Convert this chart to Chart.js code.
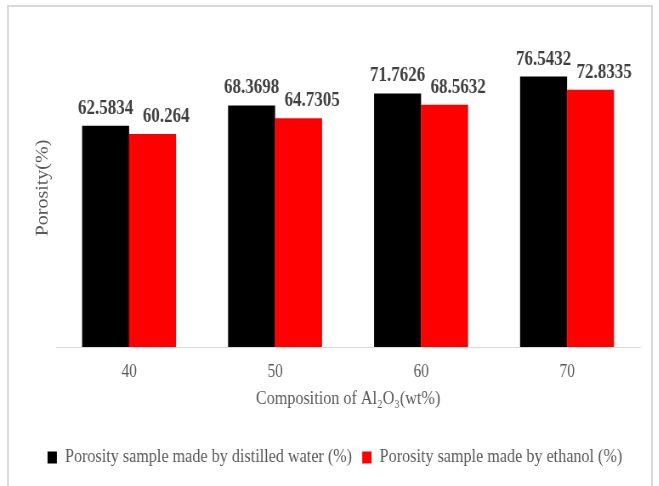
<!DOCTYPE html>
<html>
<head>
<meta charset="utf-8">
<script src="https://cdn.jsdelivr.net/npm/chart.js@4.4.1/dist/chart.umd.min.js"></script>
<style>
  html, body { margin: 0; padding: 0; background: #fff; overflow: hidden; }
  #wrap { position: absolute; left: 0; top: 0; width: 775px; height: 486px; transform: scaleX(0.85); transform-origin: 0 0; }
  #frame { position: absolute; left: 7px; top: 5px; width: 646px; height: 500px; border: 2px solid #d9d9d9; box-sizing: border-box; }
</style>
</head>
<body>
<div id="wrap"><canvas id="porosity" width="775" height="486"></canvas></div>
<div id="frame"></div>
<script>
const composicao = ['40', '50', '60', '70'];
const aguaDestilada = [62.5834, 68.3698, 71.7626, 76.5432];
const etanol = [60.264, 64.7305, 68.5632, 72.8335];

const serie1 = 'Porosity sample made by distilled water (%)';
const serie2 = 'Porosity sample made by ethanol (%)';

const fonte = "'Liberation Serif', 'Times New Roman', serif";
const cinza = '#595959';

// rótulos de valor acima das barras
const rotulos = {
  id: 'rotulos',
  afterDatasetsDraw(chart) {
    const ctx = chart.ctx;
    ctx.save();
    ctx.font = 'bold 20px ' + fonte;
    ctx.fillStyle = '#404040';
    ctx.textAlign = 'center';
    ctx.textBaseline = 'alphabetic';
    chart.data.datasets.forEach((ds, i) => {
      const meta = chart.getDatasetMeta(i);
      meta.data.forEach((bar, j) => {
        const dx = i === 1 ? 16 : 0;
        ctx.fillText(String(ds.data[j]), bar.x + dx, bar.y - 12);
      });
    });
    ctx.restore();
  }
};

const data = {
  labels: composicao,
  datasets: [
    { label: serie1, data: aguaDestilada, backgroundColor: '#000000', borderWidth: 0 },
    { label: serie2, data: etanol, backgroundColor: '#ff0000', borderWidth: 0 }
  ]
};

const config = {
  type: 'bar',
  data: data,
  options: {
    responsive: false,
    animation: false,
    devicePixelRatio: 1,
    layout: { padding: { left: 35, right: 22, top: 29, bottom: 9 } },
    datasets: { bar: { categoryPercentage: 0.644, barPercentage: 1 } },
    plugins: {
      tooltip: { enabled: false },
      legend: {
        position: 'bottom',
        labels: {
          boxWidth: 11,
          boxHeight: 12,
          padding: 12,
          color: cinza,
          font: { family: fonte, size: 19 }
        }
      }
    },
    scales: {
      x: {
        grid: { display: false, drawTicks: false },
        border: { display: true, color: '#d9d9d9', width: 1 },
        ticks: { color: cinza, font: { family: fonte, size: 18 }, padding: 14 },
        title: {
          display: true,
          text: 'Composition of Al₂O₃(wt%)',
          color: cinza,
          font: { family: fonte, size: 19 },
          padding: { top: 4, bottom: 26 }
        },
        afterFit(scale) { scale.height = 89; }
      },
      y: {
        min: 0,
        max: 90,
        grid: { display: false, drawTicks: false },
        border: { display: false },
        ticks: { display: false },
        title: {
          display: true,
          text: 'Porosity(%)',
          color: cinza,
          font: { family: fonte, size: 20 },
          padding: { top: 4, bottom: 4 }
        },
        afterFit(scale) { scale.width = 31; }
      }
    }
  },
  plugins: [rotulos]
};

window.addEventListener('DOMContentLoaded', () => {
  const ctx = document.getElementById('porosity').getContext('2d');
  new Chart(ctx, config);
});
</script>
</body>
</html>
